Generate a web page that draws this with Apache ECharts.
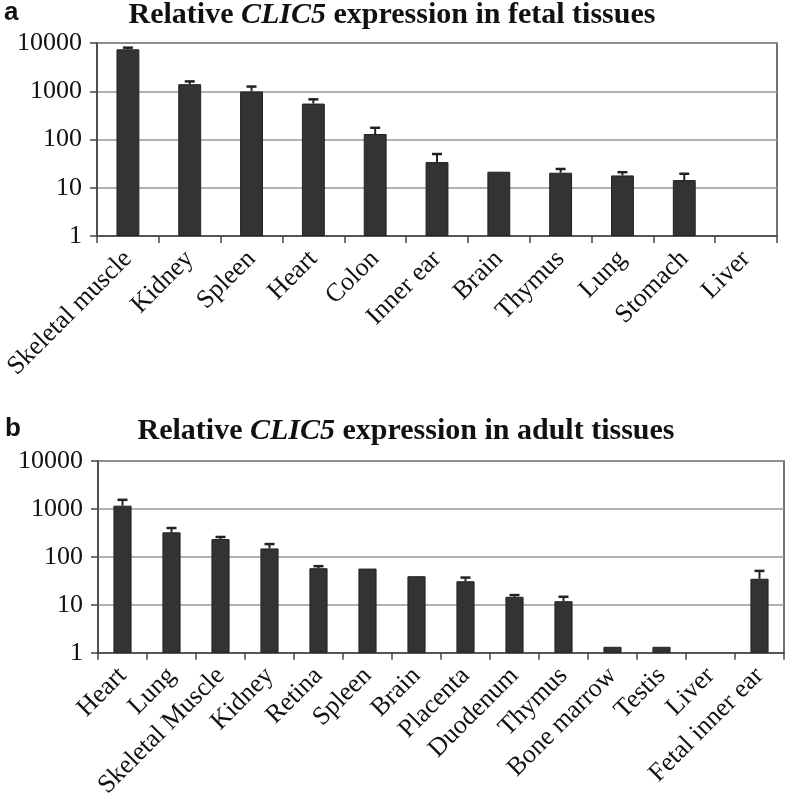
<!DOCTYPE html>
<html>
<head>
<meta charset="utf-8">
<script src="https://cdn.jsdelivr.net/npm/echarts@6/dist/echarts.min.js"></script>
<style>
html,body{margin:0;padding:0;background:#fff;}
#chart{width:789px;height:801px;}
</style>
</head>
<body>
<div id="chart"></div>
<script>
// ---- Data ----
var fetalTissues = ['Skeletal muscle','Kidney','Spleen','Heart','Colon','Inner ear','Brain','Thymus','Lung','Stomach','Liver'];
var fetalMean    = [7400, 1400, 990, 555, 130, 34, 21.5, 20.5, 18, 14.4, '-'];
var fetalUpper   = [8000, 1600, 1250, 680, 175, 50, '-', 24.5, 21, 19.5, '-'];

var adultTissues = ['Heart','Lung','Skeletal Muscle','Kidney','Retina','Spleen','Brain','Placenta','Duodenum','Thymus','Bone marrow','Testis','Liver','Fetal inner ear'];
var adultMean    = [1170, 325, 235, 150, 58, 57, 39.5, 31, 14.7, 11.9, 1.33, 1.33, '-', 35];
var adultUpper   = [1550, 400, 260, 185, 64, '-', '-', 37, 16, 14.7, '-', '-', '-', 51];

var yTicks = [1, 10, 100, 1000, 10000];

// ---- Helpers ----
var serif = '"Liberation Serif","Times New Roman",serif';
function errSeries(xi, upper, mean) {
  var data = [];
  for (var i = 0; i < upper.length; i++) {
    if (upper[i] !== '-' && mean[i] !== '-') data.push([i, mean[i], upper[i]]);
  }
  return {
    type: 'custom',
    xAxisIndex: xi, yAxisIndex: xi,
    z: 5,
    renderItem: function (params, api) {
      var x = api.value(0);
      var p0 = api.coord([x, api.value(1)]);
      var p1 = api.coord([x, api.value(2)]);
      var hw = 5;
      return {
        type: 'group',
        children: [
          {type: 'line', shape: {x1: p0[0], y1: p0[1], x2: p1[0], y2: p1[1]}, style: {stroke: '#222', lineWidth: 2}},
          {type: 'line', shape: {x1: p1[0] - hw, y1: p1[1], x2: p1[0] + hw, y2: p1[1]}, style: {stroke: '#222', lineWidth: 2.5}}
        ]
      };
    },
    encode: {x: 0, y: 2},
    data: data
  };
}
function catAxis(gi, cats) {
  return {
    type: 'category', gridIndex: gi, data: cats,
    boundaryGap: true,
    axisLine: {show: true, lineStyle: {color: '#444', width: 1.5}},
    axisTick: {show: true, alignWithLabel: false, length: 7, lineStyle: {color: '#444', width: 1.5}},
    axisLabel: {rotate: 45, margin: 19, fontSize: 26, fontFamily: serif, color: '#111', interval: 0},
    splitLine: {show: false}
  };
}
function logAxis(gi) {
  return {
    type: 'log', gridIndex: gi, logBase: 10, min: yTicks[0], max: yTicks[yTicks.length - 1],
    axisLine: {show: true, lineStyle: {color: '#444', width: 1.5}},
    axisTick: {show: true, length: 7, inside: false, lineStyle: {color: '#444', width: 1.5}},
    minorTick: {show: false},
    axisLabel: {fontSize: 26, fontFamily: serif, color: '#111', margin: 15,
      formatter: function (v) { return String(Math.round(v)); }},
    splitLine: {show: true, lineStyle: {color: '#999', width: 1.5}}
  };
}
var titleStyle = {fontSize: 30, fontWeight: 'bold', fontFamily: serif, color: '#111',
  rich: {i: {fontSize: 30, fontWeight: 'bold', fontStyle: 'italic', fontFamily: serif, color: '#111'}}};
var letterStyle = {fontSize: 26, fontWeight: 'bold', fontFamily: '"Liberation Sans",Arial,sans-serif', color: '#111'};

var option = {
  animation: false,
  backgroundColor: '#fff',
  title: [
    {text: 'a', left: 4, top: 0, padding: 0, textStyle: letterStyle},
    {text: 'Relative {i|CLIC5} expression in fetal tissues', left: 392, top: 0, padding: 0, textAlign: 'center', textStyle: titleStyle},
    {text: 'b', left: 5, top: 416, padding: 0, textStyle: letterStyle},
    {text: 'Relative {i|CLIC5} expression in adult tissues', left: 406, top: 416, padding: 0, textAlign: 'center', textStyle: titleStyle}
  ],
  grid: [
    {left: 97, top: 43, width: 680, height: 193, show: true, borderColor: '#444', borderWidth: 1.5, backgroundColor: 'transparent'},
    {left: 98, top: 461, width: 686, height: 195, show: true, borderColor: '#444', borderWidth: 1.5, backgroundColor: 'transparent'}
  ],
  xAxis: [catAxis(0, fetalTissues), catAxis(1, adultTissues)],
  yAxis: [logAxis(0), logAxis(1)],
  series: [
    {type: 'bar', xAxisIndex: 0, yAxisIndex: 0, data: fetalMean, barWidth: '37%',
     itemStyle: {color: '#333', borderColor: '#222', borderWidth: 1}},
    errSeries(0, fetalUpper, fetalMean),
    {type: 'bar', xAxisIndex: 1, yAxisIndex: 1, data: adultMean, barWidth: '37%',
     itemStyle: {color: '#333', borderColor: '#222', borderWidth: 1}},
    errSeries(1, adultUpper, adultMean)
  ]
};
var chart = echarts.init(document.getElementById('chart'), null, {renderer: 'canvas'});
chart.setOption(option);
</script>
</body>
</html>
